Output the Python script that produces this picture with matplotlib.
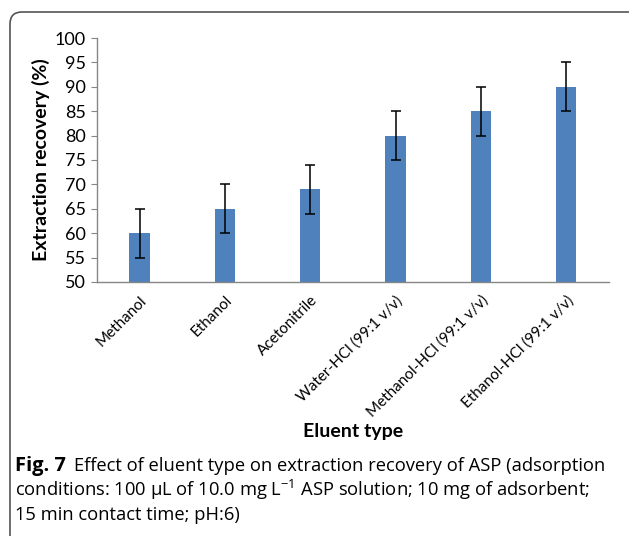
import numpy as np
import matplotlib
matplotlib.use("Agg")
import matplotlib.pyplot as plt
from matplotlib.patches import FancyBboxPatch

# eluent types and recoveries
eluents = ["Methanol", "Ethanol", "Acetonitrile", "Water-HCl (99:1 v/v)",
           "Methanol-HCl (99:1 v/v)", "Ethanol-HCl (99:1 v/v)"]
recovery = [60, 65, 69, 80, 85, 90]
err = [5, 5, 5, 5, 5, 5]
yticks = list(range(50, 101, 5))

plt.rcParams['font.family'] = ['Lato', 'DejaVu Sans']
plt.rcParams['mathtext.default'] = 'regular'

fig = plt.figure(figsize=(6.29, 5.36), dpi=100)
ax = fig.add_axes([0.154, 0.474, 0.814, 0.455])

x = np.arange(len(eluents))
ax.bar(x, recovery, width=0.24, color='#4F81BD', zorder=2)
ax.errorbar(x, recovery, yerr=err, fmt='none', ecolor='black', elinewidth=1.1,
            capsize=3.5, capthick=1.1, zorder=3)

ax.set_xlim(-0.5, len(eluents) - 0.5)
ax.set_ylim(50, 100)
ax.set_yticks(yticks)
ax.set_xticks(x)
ax.set_xticklabels(eluents, rotation=45, ha='right', rotation_mode='anchor', fontsize=11)
ax.tick_params(axis='y', labelsize=13, length=4, color='#868686', pad=4)
ax.tick_params(axis='x', length=0, pad=8)

for s in ['top', 'right']:
    ax.spines[s].set_visible(False)
for s in ['left', 'bottom']:
    ax.spines[s].set_color('#868686')
    ax.spines[s].set_linewidth(1.0)

ax.set_ylabel('Extraction recovery (%)', fontsize=14, fontweight='bold', labelpad=3)
fig.text(0.561, 1 - 432 / 536, 'Eluent type', fontsize=14, fontweight='bold',
         ha='center', va='center')

# rounded frame (only left and top edges show)
frame = FancyBboxPatch((10, -40), 660, 564, boxstyle='round,pad=0,rounding_size=12',
                       transform=None, fill=False, edgecolor='#555555', linewidth=1.2)
fig.patches.append(frame)

cap_font = ['Open Sans', 'DejaVu Sans']
t1 = fig.text(15 / 629, 1 - 466 / 536, 'Fig. 7', fontsize=14.5, fontweight='bold',
              family=cap_font, va='center')
ax.annotate('Effect of eluent type on extraction recovery of ASP (adsorption',
            xy=(1, 0.5), xycoords=t1, xytext=(6, 0), textcoords='offset points',
            va='center', fontsize=13.2, family=cap_font, annotation_clip=False)
fig.text(15 / 629, 1 - 490 / 536,
         'conditions: 100 µL of 10.0 mg L$^{-1}$ ASP solution; 10 mg of adsorbent;',
         fontsize=13.2, family=cap_font, va='center')
fig.text(15 / 629, 1 - 515 / 536, '15 min contact time; pH:6)',
         fontsize=13.2, family=cap_font, va='center')

fig.savefig('out.png', dpi=100)
